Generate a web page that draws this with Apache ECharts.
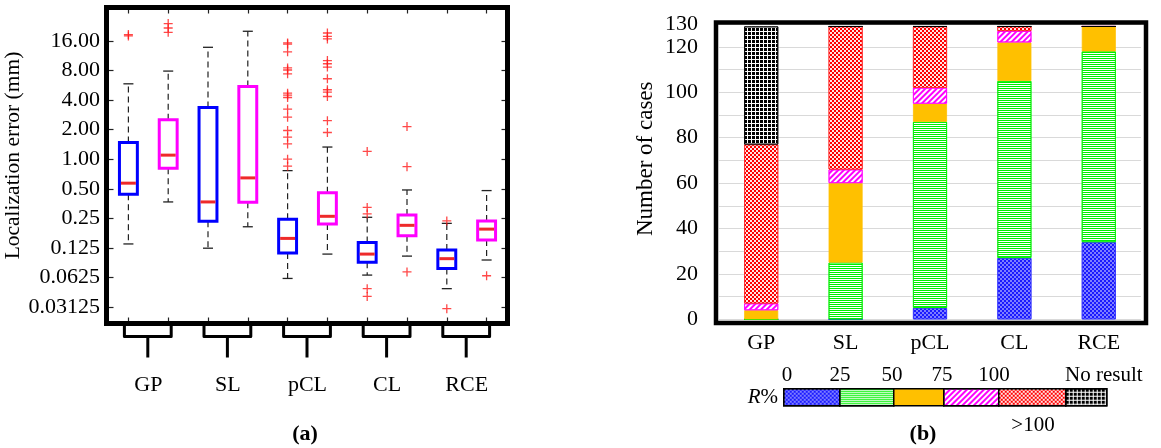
<!DOCTYPE html>
<html><head><meta charset="utf-8">
<script src="https://cdn.jsdelivr.net/npm/echarts@6/dist/echarts.min.js"></script>
<style>html,body{margin:0;padding:0;background:#fff}#c{width:1161px;height:448px}</style>
</head><body><div id="c"></div>
<script>
// ---------- (a) localization error box plots ----------
const boxCategories = ['GP-1','GP-2','SL-1','SL-2','pCL-1','pCL-2','CL-1','CL-2','RCE-1','RCE-2'];
const methodNames = ['GP','SL','pCL','CL','RCE'];
const errorTickValues = [0.03125,0.0625,0.125,0.25,0.5,1,2,4,8,16];
const errorTickLabels = ['0.03125','0.0625','0.125','0.25','0.50','1.00','2.00','4.00','8.00','16.00'];
const boxMin    = [0.137, 0.367, 0.124, 0.205, 0.061, 0.108, 0.066, 0.103, 0.048, 0.094];
const boxQ1     = [0.44,  0.81,  0.233, 0.364, 0.111, 0.219, 0.089, 0.166, 0.077, 0.150];
const boxMedian = [0.57,  1.10,  0.367, 0.645, 0.156, 0.262, 0.108, 0.212, 0.097, 0.194];
const boxQ3     = [1.48,  2.52,  3.36,  5.5,   0.244, 0.456, 0.142, 0.27,  0.119, 0.235];
const boxMax    = [5.86,  7.9,   13.8,  20.1,  0.765, 1.33,  0.256, 0.486, 0.222, 0.479];
const outlierValues = [
  [18.0, 18.6],
  [19.6, 21.7, 24.1],
  [],
  [],
  [15.3, 14.9, 12.4, 8.5, 8.1, 7.4, 4.7, 4.5, 4.25, 3.24, 2.68, 1.96, 1.68, 1.43, 1.0, 0.85],
  [19.3, 17.8, 16.8, 10.1, 9.38, 8.68, 6.6, 5.1, 4.83, 4.35, 2.47, 1.87],
  [1.2, 0.323, 0.277, 0.048, 0.040],
  [2.15, 0.84, 0.071],
  [0.235, 0.030],
  [0.065]
];
const errorAxisMin = 0.0212, errorAxisMax = 35.1;

// ---------- (b) number of cases stacked bars ----------
const caseCategories = ['GP','SL','pCL','CL','RCE'];
const caseTickLabels = [0,20,40,60,80,100,120,130];
const cases0to25   = [0, 0, 5, 27, 34];
const cases25to50  = [0, 25, 82, 78, 84];
const cases50to75  = [4, 35, 8, 17, 11];
const cases75to100 = [3, 6, 7, 5, 0];
const casesOver100 = [70, 63, 27, 2, 0];
const casesNoResult= [52, 0, 0, 0, 0];
const legendBoundaryLabels = ['0','25','50','75','100','No result'];

const FONT = 'Liberation Serif';
const L2 = Math.log2;

const boxData = boxCategories.map((c, i) => [i, L2(boxMin[i]), L2(boxQ1[i]), L2(boxMedian[i]), L2(boxQ3[i]), L2(boxMax[i])]);
const outlierData = [];
outlierValues.forEach((arr, i) => arr.forEach(v => outlierData.push([i, L2(v)])));
const errorTicks = errorTickValues.map(v => L2(v));
const bracketData = methodNames.map((m, g) => [2 * g, 2 * g + 1, L2(errorAxisMin)]);

function renderBox(params, api) {
  const idx = api.value(0);
  const x = api.coord([idx, 0])[0];
  const bw = api.size([1, 0])[0] * 0.45;
  const yy = k => api.coord([idx, api.value(k)])[1];
  const yMin = yy(1), yQ1 = yy(2), yMed = yy(3), yQ3 = yy(4), yMax = yy(5);
  const col = idx % 2 === 0 ? '#0000ff' : '#ff00ff';
  const whisk = {stroke: '#222', lineWidth: 1.2, lineDash: [6, 4], fill: null};
  const capS = {stroke: '#222', lineWidth: 1.3, fill: null};
  const cap = bw * 0.28;
  return {type: 'group', children: [
    {type: 'line', shape: {x1: x, y1: yQ3, x2: x, y2: yMax}, style: whisk},
    {type: 'line', shape: {x1: x, y1: yQ1, x2: x, y2: yMin}, style: whisk},
    {type: 'line', shape: {x1: x - cap, y1: yMax, x2: x + cap, y2: yMax}, style: capS},
    {type: 'line', shape: {x1: x - cap, y1: yMin, x2: x + cap, y2: yMin}, style: capS},
    {type: 'rect', shape: {x: x - bw / 2, y: yQ3, width: bw, height: yQ1 - yQ3}, style: {fill: 'none', stroke: col, lineWidth: 3}},
    {type: 'line', shape: {x1: x - bw / 2 + 1.5, y1: yMed, x2: x + bw / 2 - 1.5, y2: yMed}, style: {stroke: '#ee2a2a', lineWidth: 3}}
  ]};
}

function renderBracket(params, api) {
  const x1 = api.coord([api.value(0), 0])[0] - 4;
  const x2 = api.coord([api.value(1), 0])[0] + 3;
  const xm = (x1 + x2) / 2;
  const yb = params.coordSys.y + params.coordSys.height + 2;
  const yh = yb + 11;
  const st = {stroke: '#000', lineWidth: 3, fill: null, lineJoin: 'round'};
  return {type: 'group', children: [
    {type: 'polyline', shape: {points: [[x1, yb], [x1, yh], [x2, yh], [x2, yb]]}, style: st},
    {type: 'line', shape: {x1: xm, y1: yh, x2: xm, y2: yh + 21}, style: {stroke: '#000', lineWidth: 3}}
  ]};
}

const txt = {color: '#000', fontFamily: FONT, fontSize: 22};

const barDefs = [
  {name: '0-25', data: cases0to25, color: '#1a1aff', border: '#3030ff',
   decal: {symbol: 'circle', symbolSize: 0.8, color: '#ffffff', dashArrayX: [[2, 2], [0, 2, 2, 0]], dashArrayY: [2, 0]}},
  {name: '25-50', data: cases25to50, color: '#ffffff', border: '#00ee00',
   decal: {symbol: 'rect', symbolSize: 1, color: '#00f000', dashArrayX: [1, 0], dashArrayY: [1, 1]}},
  {name: '50-75', data: cases50to75, color: '#ffc000', border: '#ffc000', decal: null},
  {name: '75-100', data: cases75to100, color: '#ffffff', border: '#ff00ff',
   decal: {symbol: 'rect', symbolSize: 1, color: '#ff00ff', dashArrayX: [1, 0], dashArrayY: [2, 2], rotation: -Math.PI / 4}},
  {name: '>100', data: casesOver100, color: '#ff0000', border: '#ff2020',
   decal: {symbol: 'rect', symbolSize: 0.9, color: '#ffffff', dashArrayX: [[2, 2], [0, 2, 2, 0]], dashArrayY: [2, 0]}},
  {name: 'No result', data: casesNoResult, color: '#ffffff', border: '#000000',
   decal: {symbol: 'rect', symbolSize: 1, color: '#000000', dashArrayX: [3, 1], dashArrayY: [3, 1]}}
];

const legendLeft = [783, 839, 893, 943, 998, 1065];
const legendWidth = [56, 54, 50, 55, 67, 41];
const gtxt = (t, x, y, align, extra) => Object.assign({type: 'text', x: x, y: y,
  style: {text: t, font: '21px "Liberation Serif"', fill: '#000', align: align || 'center', verticalAlign: 'middle'}}, extra || {});

const tickStyle = {show: true, inside: true, length: 6, interval: 0, alignWithLabel: true, lineStyle: {color: '#222', width: 1.2}};
const yTickStyle = {show: true, inside: true, length: 5, customValues: null, lineStyle: {color: '#222', width: 1.2}};

const option = {
  animation: false,
  backgroundColor: '#fff',
  grid: [
    {left: 108.5, top: 7.5, width: 398, height: 316},
    {left: 719, top: 24.2, width: 422, height: 295.1}
  ],
  xAxis: [
    {type: 'category', gridIndex: 0, data: boxCategories, position: 'bottom',
     axisLine: {show: false, onZero: false}, axisLabel: {show: false}, axisTick: tickStyle},
    {type: 'category', gridIndex: 0, data: boxCategories, position: 'top',
     axisLine: {show: false, onZero: false}, axisLabel: {show: false}, axisTick: tickStyle},
    {type: 'category', gridIndex: 0, data: methodNames, position: 'bottom',
     axisLine: {show: false, onZero: false}, axisTick: {show: false},
     axisLabel: Object.assign({margin: 51}, txt)},
    {type: 'category', gridIndex: 1, data: caseCategories, position: 'bottom',
     axisLine: {show: false, onZero: false}, axisTick: {show: false},
     axisLabel: Object.assign({margin: 13}, txt)}
  ],
  yAxis: [
    {type: 'value', gridIndex: 0, min: L2(errorAxisMin), max: L2(errorAxisMax), position: 'left',
     splitLine: {show: false}, axisLine: {show: false, onZero: false},
     axisTick: Object.assign({}, yTickStyle, {customValues: errorTicks}),
     axisLabel: Object.assign({margin: 8.5, customValues: errorTicks,
       formatter: v => errorTickLabels[Math.round(v) + 5]}, txt),
     name: 'Localization error (mm)', nameLocation: 'middle', nameGap: 79,
     nameTextStyle: Object.assign({}, txt, {fontSize: 21.5, padding: [0, 0, 0, 20]})},
    {type: 'value', gridIndex: 0, min: L2(errorAxisMin), max: L2(errorAxisMax), position: 'right',
     splitLine: {show: false}, axisLine: {show: false, onZero: false}, axisLabel: {show: false},
     axisTick: Object.assign({}, yTickStyle, {customValues: errorTicks})},
    {type: 'value', gridIndex: 1, min: 0, max: 130, interval: 10,
     splitLine: {show: true, lineStyle: {color: '#d9d9d9', width: 1}},
     axisLine: {show: false, onZero: false}, axisTick: {show: false},
     axisLabel: Object.assign({margin: 21, customValues: caseTickLabels}, txt),
     name: 'Number of cases', nameLocation: 'middle', nameGap: 62,
     nameTextStyle: Object.assign({}, txt, {fontSize: 23, padding: [0, 0, 0, 26]})}
  ],
  legend: barDefs.map((b, i) => ({
    data: [b.name], left: legendLeft[i], top: 388, padding: 0, itemGap: 0,
    itemWidth: legendWidth[i], itemHeight: 17, icon: 'rect', selectedMode: false,
    formatter: () => '', textStyle: {fontSize: 1},
    itemStyle: {borderColor: '#000', borderWidth: 1.5}
  })),
  series: [
    {type: 'custom', name: 'boxes', xAxisIndex: 0, yAxisIndex: 0, data: boxData,
     encode: {x: 0, y: [1, 2, 3, 4, 5]}, renderItem: renderBox, silent: true, z: 2},
    {type: 'scatter', name: 'outliers', xAxisIndex: 0, yAxisIndex: 0, data: outlierData,
     symbol: 'path://M0,5L10,5M5,0L5,10', symbolSize: 9, silent: true, z: 3,
     itemStyle: {color: 'rgba(0,0,0,0)', borderColor: '#ff1a1a', borderWidth: 1.3}},
    {type: 'custom', name: 'brackets', xAxisIndex: 0, yAxisIndex: 0, data: bracketData,
     encode: {x: [0, 1], y: 2}, renderItem: renderBracket, clip: false, silent: true, z: 4}
  ].concat(barDefs.map(b => ({
    type: 'bar', name: b.name, xAxisIndex: 3, yAxisIndex: 2, stack: 'cases', barWidth: 34,
    data: b.data, silent: true,
    itemStyle: Object.assign({color: b.color, borderColor: b.border, borderWidth: 0.8},
      b.decal ? {decal: b.decal} : {})
  }))),
  graphic: [
    {type: 'rect', shape: {x: 106.5, y: 7.5, width: 401, height: 316}, style: {fill: 'none', stroke: '#000', lineWidth: 5}, z: 100, silent: true},
    {type: 'rect', shape: {x: 716, y: 22.5, width: 430, height: 300.5}, style: {fill: 'none', stroke: '#000', lineWidth: 4.5}, z: 100, silent: true},
    {type: 'text', x: 305, y: 434, style: {text: '(a)', font: 'bold 22px "Liberation Serif"', fill: '#000', align: 'center', verticalAlign: 'middle'}},
    {type: 'text', x: 923, y: 434, style: {text: '(b)', font: 'bold 22px "Liberation Serif"', fill: '#000', align: 'center', verticalAlign: 'middle'}},
    gtxt('>100', 1033, 425),
    {type: 'text', x: 778, y: 397, style: {text: '{i|R}%', font: '21px "Liberation Serif"', fill: '#000', align: 'right', verticalAlign: 'middle',
      rich: {i: {fontStyle: 'italic', fontFamily: FONT, fontSize: 21}}}},
    gtxt(legendBoundaryLabels[0], 787, 375),
    gtxt(legendBoundaryLabels[1], 840, 375),
    gtxt(legendBoundaryLabels[2], 892, 375),
    gtxt(legendBoundaryLabels[3], 942, 375),
    gtxt(legendBoundaryLabels[4], 994, 375),
    gtxt(legendBoundaryLabels[5], 1065, 375, 'left')
  ]
};
const chart = echarts.init(document.getElementById('c'), null, {renderer: 'canvas'});
chart.setOption(option);
</script>
</body></html>
